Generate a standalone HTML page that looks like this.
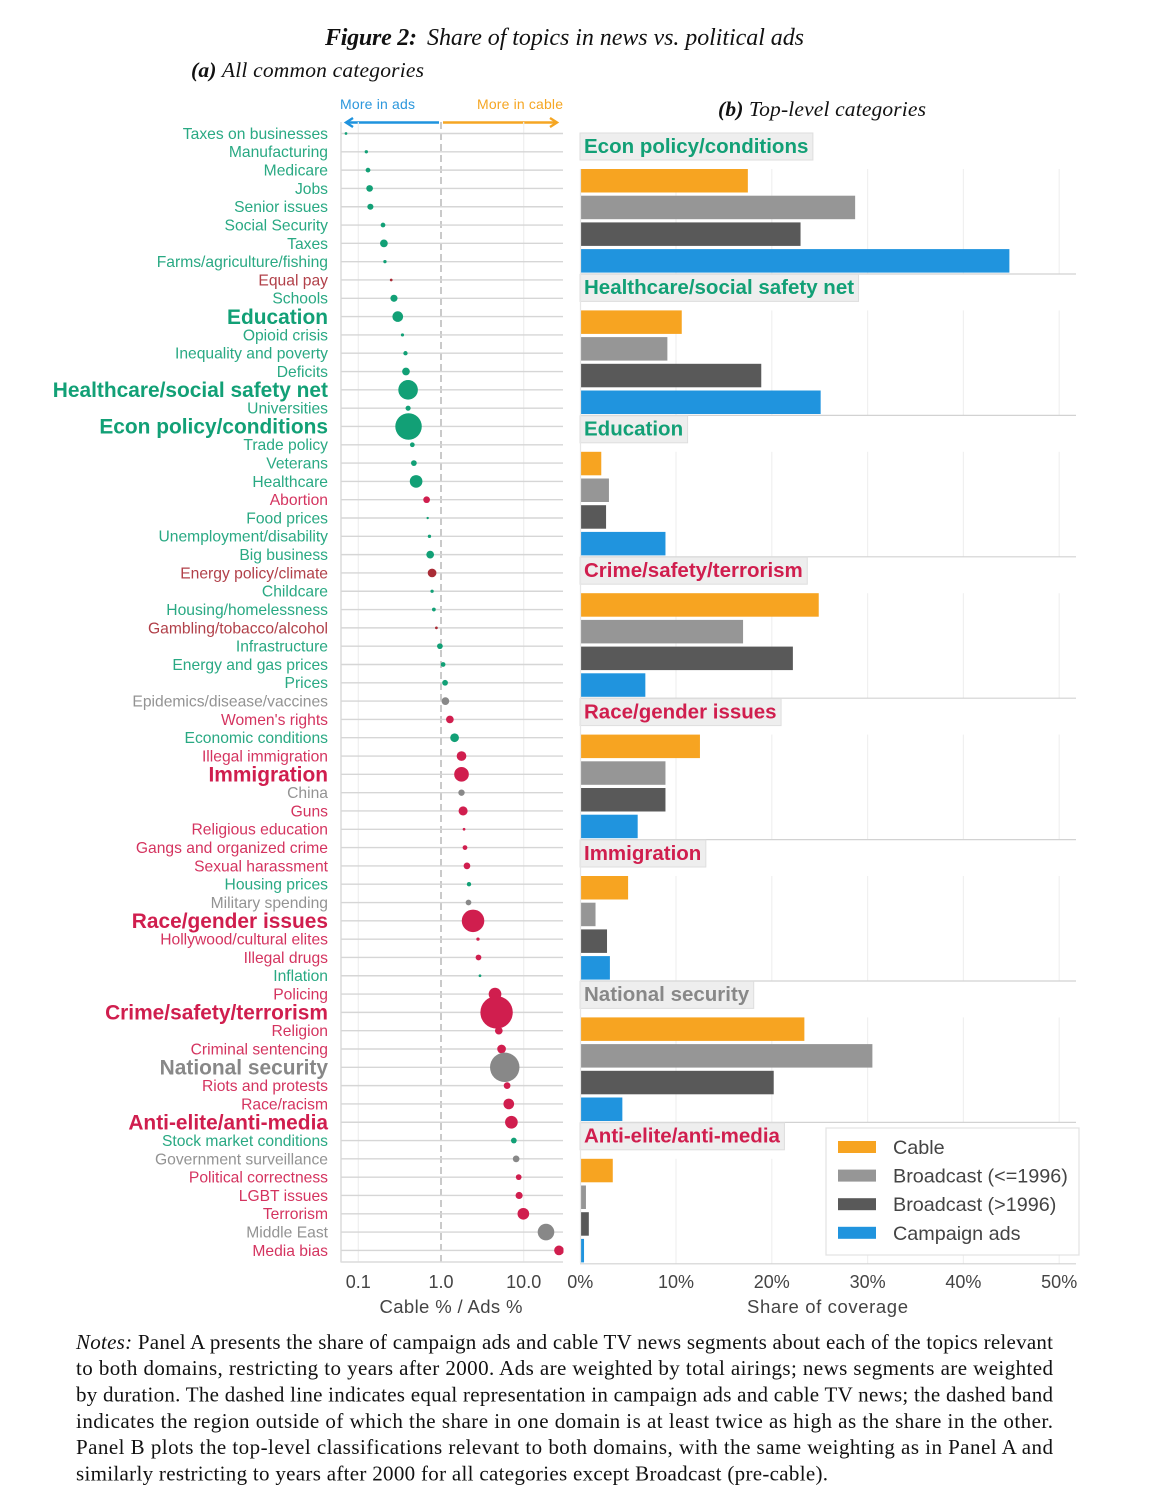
<!DOCTYPE html>
<html lang="en">
<head>
<meta charset="utf-8">
<title>Figure 2: Share of topics in news vs. political ads</title>
<style>
html,body{margin:0;padding:0;background:#fff;}
svg{display:block;}
.sans{font-family:"Liberation Sans",Arial,sans-serif;}
.serif{font-family:"Liberation Serif","Times New Roman",serif;}
</style>
</head>
<body>
<svg id="fig" xmlns="http://www.w3.org/2000/svg" width="1175" height="1492" viewBox="0 0 1175 1492">
  <defs>
    <clipPath id="dot-clip"><rect x="341" y="118" width="222.5" height="1145"/></clipPath>
  </defs>
  <text class="serif" y="45" font-size="24" font-style="italic" fill="#111"><tspan x="325" font-weight="bold" textLength="92" lengthAdjust="spacing">Figure 2:</tspan><tspan x="427" textLength="377" lengthAdjust="spacing">Share of topics in news vs. political ads</tspan></text>
  <text class="serif" x="191" y="77" font-size="21.5" font-style="italic" fill="#111" textLength="233" lengthAdjust="spacing"><tspan font-weight="bold">(a)</tspan> All common categories</text>
  <text class="serif" x="718" y="116" font-size="21.5" font-style="italic" fill="#111" textLength="208" lengthAdjust="spacing"><tspan font-weight="bold">(b)</tspan> Top-level categories</text>

  <text class="sans" x="340" y="109" font-size="14" fill="#2b97dc" textLength="75" lengthAdjust="spacing">More in ads</text>
  <text class="sans" x="477" y="109" font-size="14" fill="#f5a623" textLength="86" lengthAdjust="spacing">More in cable</text>
  <g fill="none" stroke="#1f93de" stroke-width="2.4">
    <path d="M439 122.5H346"/><path d="M353 118L346 122.5L353 127"/>
  </g>
  <g fill="none" stroke="#f5a623" stroke-width="2.4">
    <path d="M443 122.5H557"/><path d="M550 118L557 122.5L550 127"/>
  </g>

  <g id="panel-a"></g>
  <g id="panel-b"></g>

  <g>
    <rect x="826" y="1128" width="253" height="127" fill="#fff" stroke="#e2e2e2" stroke-width="1.2"/>
    <g id="legend-entries"></g>
  </g>

  <text class="sans" x="451" y="1313" font-size="18.5" fill="#444" text-anchor="middle" textLength="143" lengthAdjust="spacing">Cable % / Ads %</text>
  <text class="sans" x="827.5" y="1313" font-size="18.5" fill="#444" text-anchor="middle" textLength="161" lengthAdjust="spacing">Share of coverage</text>

  <g class="serif" font-size="21" fill="#111">
    <text x="76" y="1349" textLength="977" lengthAdjust="spacing"><tspan font-style="italic">Notes:</tspan> Panel A presents the share of campaign ads and cable TV news segments about each of the topics relevant</text>
    <text x="76" y="1375" textLength="977" lengthAdjust="spacing">to both domains, restricting to years after 2000. Ads are weighted by total airings; news segments are weighted</text>
    <text x="76" y="1401.5" textLength="977" lengthAdjust="spacing">by duration. The dashed line indicates equal representation in campaign ads and cable TV news; the dashed band</text>
    <text x="76" y="1428" textLength="977" lengthAdjust="spacing">indicates the region outside of which the share in one domain is at least twice as high as the share in the other.</text>
    <text x="76" y="1454" textLength="977" lengthAdjust="spacing">Panel B plots the top-level classifications relevant to both domains, with the same weighting as in Panel A and</text>
    <text x="76" y="1480.5" textLength="752" lengthAdjust="spacing">similarly restricting to years after 2000 for all categories except Broadcast (pre-cable).</text>
  </g>
</svg>

<script>
// ---------- Panel A data ----------
const topics = ["Taxes on businesses","Manufacturing","Medicare","Jobs","Senior issues","Social Security","Taxes","Farms/agriculture/fishing","Equal pay","Schools","Education","Opioid crisis","Inequality and poverty","Deficits","Healthcare/social safety net","Universities","Econ policy/conditions","Trade policy","Veterans","Healthcare","Abortion","Food prices","Unemployment/disability","Big business","Energy policy/climate","Childcare","Housing/homelessness","Gambling/tobacco/alcohol","Infrastructure","Energy and gas prices","Prices","Epidemics/disease/vaccines","Women's rights","Economic conditions","Illegal immigration","Immigration","China","Guns","Religious education","Gangs and organized crime","Sexual harassment","Housing prices","Military spending","Race/gender issues","Hollywood/cultural elites","Illegal drugs","Inflation","Policing","Crime/safety/terrorism","Religion","Criminal sentencing","National security","Riots and protests","Race/racism","Anti-elite/anti-media","Stock market conditions","Government surveillance","Political correctness","LGBT issues","Terrorism","Middle East","Media bias"];
const ratios = [0.071,0.125,0.131,0.137,0.140,0.199,0.204,0.21,0.25,0.27,0.30,0.342,0.372,0.377,0.40,0.40,0.405,0.45,0.47,0.50,0.67,0.69,0.725,0.74,0.78,0.78,0.82,0.88,0.97,1.06,1.12,1.13,1.28,1.46,1.77,1.77,1.77,1.85,1.9,1.95,2.06,2.18,2.15,2.44,2.8,2.84,2.96,4.5,4.7,5.0,5.4,5.9,6.3,6.6,7.1,7.6,8.1,8.7,8.8,9.9,18.6,26.7];
const shares = [0.06,0.1,0.25,0.56,0.45,0.25,0.76,0.1,0.06,0.64,1.56,0.09,0.2,0.76,5.64,0.3,10.56,0.25,0.39,2.25,0.56,0.04,0.1,0.76,1.0,0.1,0.14,0.06,0.39,0.25,0.39,0.76,0.76,1.0,1.27,3.06,0.49,1.1,0.06,0.25,0.56,0.2,0.39,7.56,0.1,0.39,0.06,2.25,16.0,0.76,1.0,13.14,0.56,1.56,2.25,0.39,0.56,0.39,0.64,1.89,4.0,1.27];
// g = green (policy), r = red (identity/social), d = dark red (mixed), n = neutral grey
const leanings = ["g","g","g","g","g","g","g","g","d","g","g","g","g","g","g","g","g","g","g","g","r","g","g","g","d","g","g","d","g","g","g","n","r","g","r","r","n","r","r","r","r","g","n","r","r","r","g","r","r","r","r","n","r","r","r","g","n","r","r","r","n","r"];
const topLevel = ["Education","Healthcare/social safety net","Econ policy/conditions","Immigration","Race/gender issues","Crime/safety/terrorism","National security","Anti-elite/anti-media"];
const ratioTicks = [0.1,1,10];
const ratioTickLabels = ["0.1","1.0","10.0"];

// ---------- Panel B data ----------
const facets = ["Econ policy/conditions","Healthcare/social safety net","Education","Crime/safety/terrorism","Race/gender issues","Immigration","National security","Anti-elite/anti-media"];
const facetLeanings = ["g","g","g","r","r","r","n","r"];
const seriesNames = ["Cable","Broadcast (<=1996)","Broadcast (>1996)","Campaign ads"];
const cable = [17.5,10.6,2.2,24.9,12.5,5.0,23.4,3.4];
const broadcastEarly = [28.7,9.1,3.0,17.0,8.9,1.6,30.5,0.6];
const broadcastLate = [23.0,18.9,2.7,22.2,8.9,2.8,20.2,0.9];
const campaignAds = [44.8,25.1,8.9,6.8,6.0,3.1,4.4,0.4];
const shareTicks = [0,10,20,30,40,50];

// ---------- Scales ----------
const NS = "http://www.w3.org/2000/svg";
const palette = {g:"#12a076", r:"#d01e4e", d:"#a92c36", n:"#888888"};
const seriesColors = ["#f7a421","#969696","#595959","#2094de"];
const xRatio = v => 441 + 82.7 * Math.log10(v);
const yRow = i => 133.5 + i * 18.31;
const rDot = s => 3.95 * Math.sqrt(s) + 0.4;
const xShare = v => 580.2 + 9.58 * v;
const yFacet = i => 169 + i * 141.4;
const yBar = j => j * 26.7;
const BAR_H = 23.5;

function make(parent, tag, attrs, text) {
  const el = document.createElementNS(NS, tag);
  for (const k in attrs) el.setAttribute(k, attrs[k]);
  if (text !== undefined) el.textContent = text;
  parent.appendChild(el);
  return el;
}

// ---------- Panel A ----------
const panelA = document.getElementById("panel-a");

ratioTicks.forEach((t, i) => {
  const isOne = t === 1;
  const grid = make(panelA, "line", {x1:xRatio(t), x2:xRatio(t), y1:122, y2:1262,
    stroke:isOne ? "#bdbdbd" : "#eeeeee", "stroke-width":isOne ? 1.6 : 1.2,
    "stroke-dasharray":isOne ? "7 4" : "none"});
  
  
  const lab = make(panelA, "text", {x:xRatio(t), y:1288, "text-anchor":"middle", "font-size":18, fill:"#444", class:"sans"}, ratioTickLabels[i]);
  
  
});

const axisLeft = make(panelA, "line", {x1:341, x2:341, y1:122, y2:1262.5, stroke:"#dcdcdc", "stroke-width":1.5});


const axisBottom = make(panelA, "line", {x1:341, x2:563, y1:1262, y2:1262, stroke:"#dcdcdc", "stroke-width":1.5});



topics.forEach((name, i) => {
  const rowLine = make(panelA, "line", {x1:341, x2:563, y1:yRow(i), y2:yRow(i), stroke:"#d6d6d6", "stroke-width":1.4});
  
  
});

topics.forEach((name, i) => {
  const big = topLevel.includes(name);
  const color = palette[leanings[i]];
  const lab = make(panelA, "text", {
    x:328, y:yRow(i) + (big ? 7.2 : 5.4), "text-anchor":"end", fill:color, class:"sans",
    "font-size":big ? 20.9 : 15.65, "font-weight":big ? "bold" : "normal",
    opacity:big ? 1 : 0.9
  }, name);
  
  
  const dot = make(panelA, "circle", {cx:xRatio(ratios[i]), cy:yRow(i), r:rDot(shares[i]), fill:color, "clip-path":"url(#dot-clip)"});
  
  
});

// ---------- Panel B ----------
const panelB = document.getElementById("panel-b");
const seriesValues = [cable, broadcastEarly, broadcastLate, campaignAds];

facets.forEach((name, i) => {
  const top = yFacet(i);
  shareTicks.slice(1).forEach(t => {
    const g = make(panelB, "line", {x1:xShare(t), x2:xShare(t), y1:top, y2:top + 105, stroke:"#f0f0f0", "stroke-width":1.2});
    
    
  });
  const rule = make(panelB, "line", {x1:580, x2:1076, y1:top + 105, y2:top + 105, stroke:"#d2d2d2", "stroke-width":1.2});
  
  
  seriesValues.forEach((vals, j) => {
    const bar = make(panelB, "rect", {x:xShare(0), y:top + yBar(j), width:xShare(vals[i]) - xShare(0), height:BAR_H, fill:seriesColors[j]});
    
    
  });
  const tagRect = make(panelB, "rect", {x:580, y:top - 36, width:100, height:27, fill:"#eeeeee", stroke:"#dedede", "stroke-width":1});
  
  
  const tag = make(panelB, "text", {x:584, y:top - 16.2, fill:palette[facetLeanings[i]], class:"sans", "font-size":20.5, "font-weight":"bold"}, name);
  
  
  tagRect.setAttribute("width", tag.getComputedTextLength() + 8.5);
});

const bAxis = make(panelB, "line", {x1:580.5, x2:580.5, y1:169, y2:1263, stroke:"#e6e6e6", "stroke-width":1.2});



shareTicks.forEach(t => {
  const lab = make(panelB, "text", {x:xShare(t), y:1288, "text-anchor":"middle", "font-size":18, fill:"#444", class:"sans"}, t + "%");
  
  
});

// ---------- Legend ----------
const legendG = document.getElementById("legend-entries");
seriesNames.forEach((name, i) => {
  const cy = 1147 + i * 28.6;
  const sw = make(legendG, "rect", {x:838, y:cy - 6, width:38, height:12, fill:seriesColors[i]});
  
  
  const tx = make(legendG, "text", {x:893, y:cy + 7, "font-size":19.8, fill:"#444", class:"sans"}, name);
  
  
});
</script>
</body>
</html>
